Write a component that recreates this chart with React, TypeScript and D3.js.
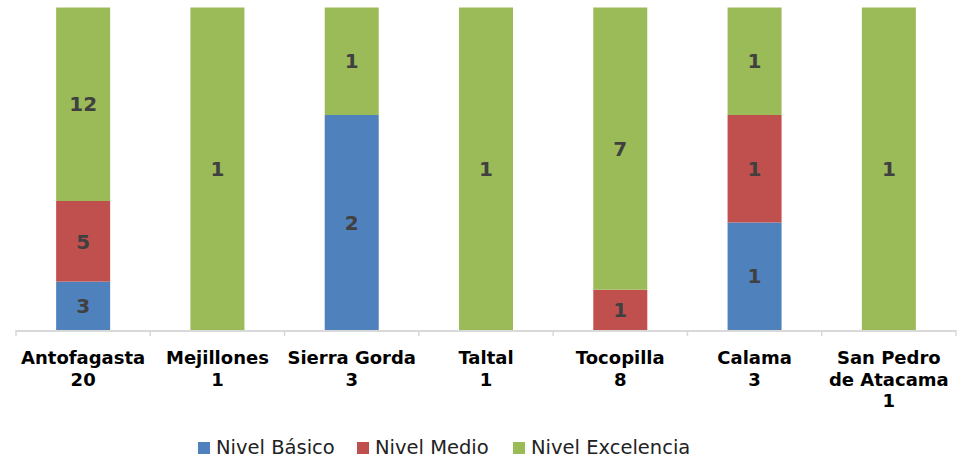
import React from "react";
import * as d3 from "d3";

const categories = [
  ["Antofagasta", "20"],
  ["Mejillones", "1"],
  ["Sierra Gorda", "3"],
  ["Taltal", "1"],
  ["Tocopilla", "8"],
  ["Calama", "3"],
  ["San Pedro", "de Atacama", "1"],
];
const seriesNames = ["Nivel Básico", "Nivel Medio", "Nivel Excelencia"];
const basico = [3, 0, 2, 0, 0, 1, 0];
const medio = [5, 0, 0, 0, 1, 1, 0];
const excelencia = [12, 1, 1, 1, 7, 1, 1];
const colors = ["#4F81BD", "#C0504D", "#9BBB59"];

const W = 961;
const H = 458;
const left = 16;
const right = 956;
const top = 7.5;
const bottom = 330;
const font = "'DejaVu Sans', Verdana, sans-serif";

export default function App() {
  const idx = categories.map((_, i) => i);
  const x = d3.scaleBand<number>().domain(idx).range([left, right]).paddingInner(0).paddingOuter(0);
  const y = d3.scaleLinear().domain([0, 1]).range([bottom, top]);
  const rows = idx.map((i) => {
    const t = basico[i] + medio[i] + excelencia[i];
    return { b: basico[i] / t, m: medio[i] / t, e: excelencia[i] / t, raw: [basico[i], medio[i], excelencia[i]] };
  });
  const stack = d3.stack<any>().keys(["b", "m", "e"])(rows);
  const bw = 54;
  return (
    <svg width={W} height={H} style={{ position: "absolute", left: 0, top: 0 }}>
      <rect width={W} height={H} fill="#fff" />
      {stack.map((s, si) =>
        s.map((d, i) => {
          const v = rows[i].raw[si];
          if (!v) return null;
          const cx = x(i)! + x.bandwidth() / 2;
          const y0 = y(d[1]);
          const y1 = y(d[0]);
          return (
            <g key={si + "-" + i}>
              <rect x={cx - bw / 2} y={y0} width={bw} height={y1 - y0} fill={colors[si]} />
              <text
                x={cx}
                y={(y0 + y1) / 2}
                dy="0.36em"
                textAnchor="middle"
                fontFamily={font}
                fontWeight="bold"
                fontSize={20}
                fill="#404040"
              >
                {v}
              </text>
            </g>
          );
        })
      )}
      <line x1={left} x2={right} y1={bottom + 1} y2={bottom + 1} stroke="#d9d9d9" strokeWidth={2} />
      {d3.range(categories.length + 1).map((k) => {
        const tx = k < categories.length ? x(k)! : right;
        return <line key={k} x1={tx} x2={tx} y1={bottom} y2={bottom + 6} stroke="#d9d9d9" strokeWidth={1.5} />;
      })}
      {categories.map((lines, i) => (
        <text key={i} textAnchor="middle" fontFamily={font} fontWeight="bold" fontSize={18} fill="#000">
          {lines.map((l, j) => (
            <tspan key={j} x={x(i)! + x.bandwidth() / 2} y={364 + j * 21.5}>
              {l}
            </tspan>
          ))}
        </text>
      ))}
      {seriesNames.map((n, i) => {
        const lx = [198, 357, 513][i];
        return (
          <g key={n}>
            <rect x={lx} y={442} width={12} height={12} fill={colors[i]} />
            <text x={lx + 18} y={454} fontFamily={font} fontSize={19.5} fill="#222">
              {n}
            </text>
          </g>
        );
      })}
    </svg>
  );
}
